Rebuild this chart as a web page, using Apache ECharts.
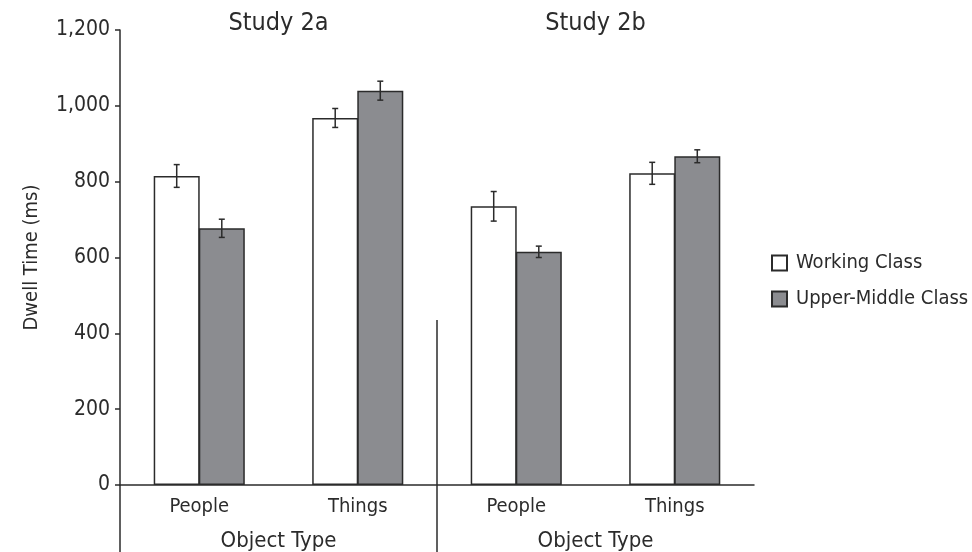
<!DOCTYPE html>
<html><head><meta charset="utf-8">
<script src="https://cdn.jsdelivr.net/npm/echarts@6/dist/echarts.min.js"></script>
<style>html,body{margin:0;padding:0;background:#fff}#c{width:972px;height:552px}</style>
</head><body><div id="c"></div>
<script>
// ---- data ----
const categories = ['People', 'Things', 'People', 'Things'];
const groupLabels = ['Object Type', 'Object Type'];
const studyTitles = ['Study 2a', 'Study 2b'];
const seriesNames = ['Working Class', 'Upper-Middle Class'];
const workingClass = [815, 968, 735, 822];
const workingErr = [30, 25, 39, 29];
const upperMiddle = [677, 1040, 615, 867];
const upperErr = [24, 25, 15, 17];
const yMin = 0, yMax = 1200, yInterval = 200;
const dividerTop = 435; // value where the study divider line starts

const FONT = "'Liberation Sans Narrow', 'DejaVu Sans Condensed', sans-serif";
const INK = '#2b2b2b';
const GRAY = '#8b8c90';
const BAR_W = 46;
const GAP_PCT = -2;
const GAP_PX = BAR_W * GAP_PCT / 100;

const chart = echarts.init(document.getElementById('c'), null, {renderer: 'canvas'});

function errSeries(name, vals, errs, side) {
  return {
    type: 'custom', name: name, z: 5, silent: true,
    data: vals.map((v, i) => [i, v, errs[i]]),
    renderItem: function (params, api) {
      const i = api.value(0), v = api.value(1), e = api.value(2);
      const hi = api.coord([i, v + e]);
      const lo = api.coord([i, v - e]);
      const x = hi[0] + side * (BAR_W + GAP_PX) / 2;
      const cap = 3;
      const st = {stroke: INK, lineWidth: 1.5};
      return {type: 'group', children: [
        {type: 'line', shape: {x1: x, y1: hi[1], x2: x, y2: lo[1]}, style: st},
        {type: 'line', shape: {x1: x - cap, y1: hi[1], x2: x + cap, y2: hi[1]}, style: st},
        {type: 'line', shape: {x1: x - cap, y1: lo[1], x2: x + cap, y2: lo[1]}, style: st}
      ]};
    }
  };
}

const option = {
  animation: false,
  backgroundColor: '#fff',
  grid: {left: 120, right: 218, top: 30, bottom: 67, containLabel: false},
  legend: {
    data: seriesNames, orient: 'vertical', left: 766, top: 248,
    icon: 'rect', itemWidth: 15, itemHeight: 15, itemGap: 16,
    textStyle: {fontFamily: FONT, fontSize: 20, color: INK, padding: [0, 0, 0, 4]},
    selectedMode: false
  },
  xAxis: [{
    type: 'category', data: categories, position: 'bottom',
    axisLine: {lineStyle: {color: INK, width: 1.5}},
    axisTick: {show: false},
    axisLabel: {fontFamily: FONT, fontSize: 20, color: INK, margin: 12}
  }, {
    type: 'category', data: groupLabels, position: 'bottom', offset: 33,
    axisLine: {show: false}, axisTick: {show: false},
    axisLabel: {fontFamily: FONT, fontSize: 22, color: INK, margin: 12}
  }],
  yAxis: {
    type: 'value', min: yMin, max: yMax, interval: yInterval,
    name: 'Dwell Time (ms)', nameLocation: 'middle', nameGap: 78, nameRotate: 90,
    nameTextStyle: {fontFamily: FONT, fontSize: 20, color: INK},
    axisLine: {show: true, lineStyle: {color: INK, width: 1.5}},
    axisTick: {show: true, length: 5, lineStyle: {color: INK, width: 1.5}},
    splitLine: {show: false},
    axisLabel: {fontFamily: FONT, fontSize: 21, color: INK, margin: 10,
      formatter: v => v.toLocaleString('en-US')}
  },
  series: [{
    name: seriesNames[0], type: 'bar', data: workingClass, barWidth: BAR_W, barGap: GAP_PCT + '%',
    itemStyle: {color: '#ffffff', borderColor: INK, borderWidth: 1.5}
  }, {
    name: seriesNames[1], type: 'bar', data: upperMiddle, barWidth: BAR_W, barGap: GAP_PCT + '%',
    itemStyle: {color: GRAY, borderColor: INK, borderWidth: 1.5}
  },
  errSeries('errW', workingClass, workingErr, -1),
  errSeries('errU', upperMiddle, upperErr, 1)]
};
chart.setOption(option);

// decorations positioned from the axes
const H = chart.getHeight();
const p0 = chart.convertToPixel({xAxisIndex: 0}, 0);
const p1 = chart.convertToPixel({xAxisIndex: 0}, 1);
const p2 = chart.convertToPixel({xAxisIndex: 0}, 2);
const p3 = chart.convertToPixel({xAxisIndex: 0}, 3);
const step = p1 - p0;
const leftX = p0 - step / 2;
const divX = (p1 + p2) / 2;
const rightX = p3 + step / 2;
const zeroY = chart.convertToPixel({yAxisIndex: 0}, yMin);
const divY = chart.convertToPixel({yAxisIndex: 0}, dividerTop);
const topY = chart.convertToPixel({yAxisIndex: 0}, yMax);
const ls = {stroke: INK, lineWidth: 1.5};
chart.setOption({
  graphic: [
    {type: 'line', shape: {x1: leftX, y1: zeroY, x2: leftX, y2: H}, style: ls},
    {type: 'line', shape: {x1: divX, y1: divY, x2: divX, y2: H}, style: ls},
    {type: 'text', x: (leftX + divX) / 2, y: topY - 7,
      style: {text: studyTitles[0], fontFamily: FONT, fontSize: 25, fill: INK, align: 'center', verticalAlign: 'middle'}},
    {type: 'text', x: (divX + rightX) / 2, y: topY - 7,
      style: {text: studyTitles[1], fontFamily: FONT, fontSize: 25, fill: INK, align: 'center', verticalAlign: 'middle'}}
  ]
});
</script></body></html>
